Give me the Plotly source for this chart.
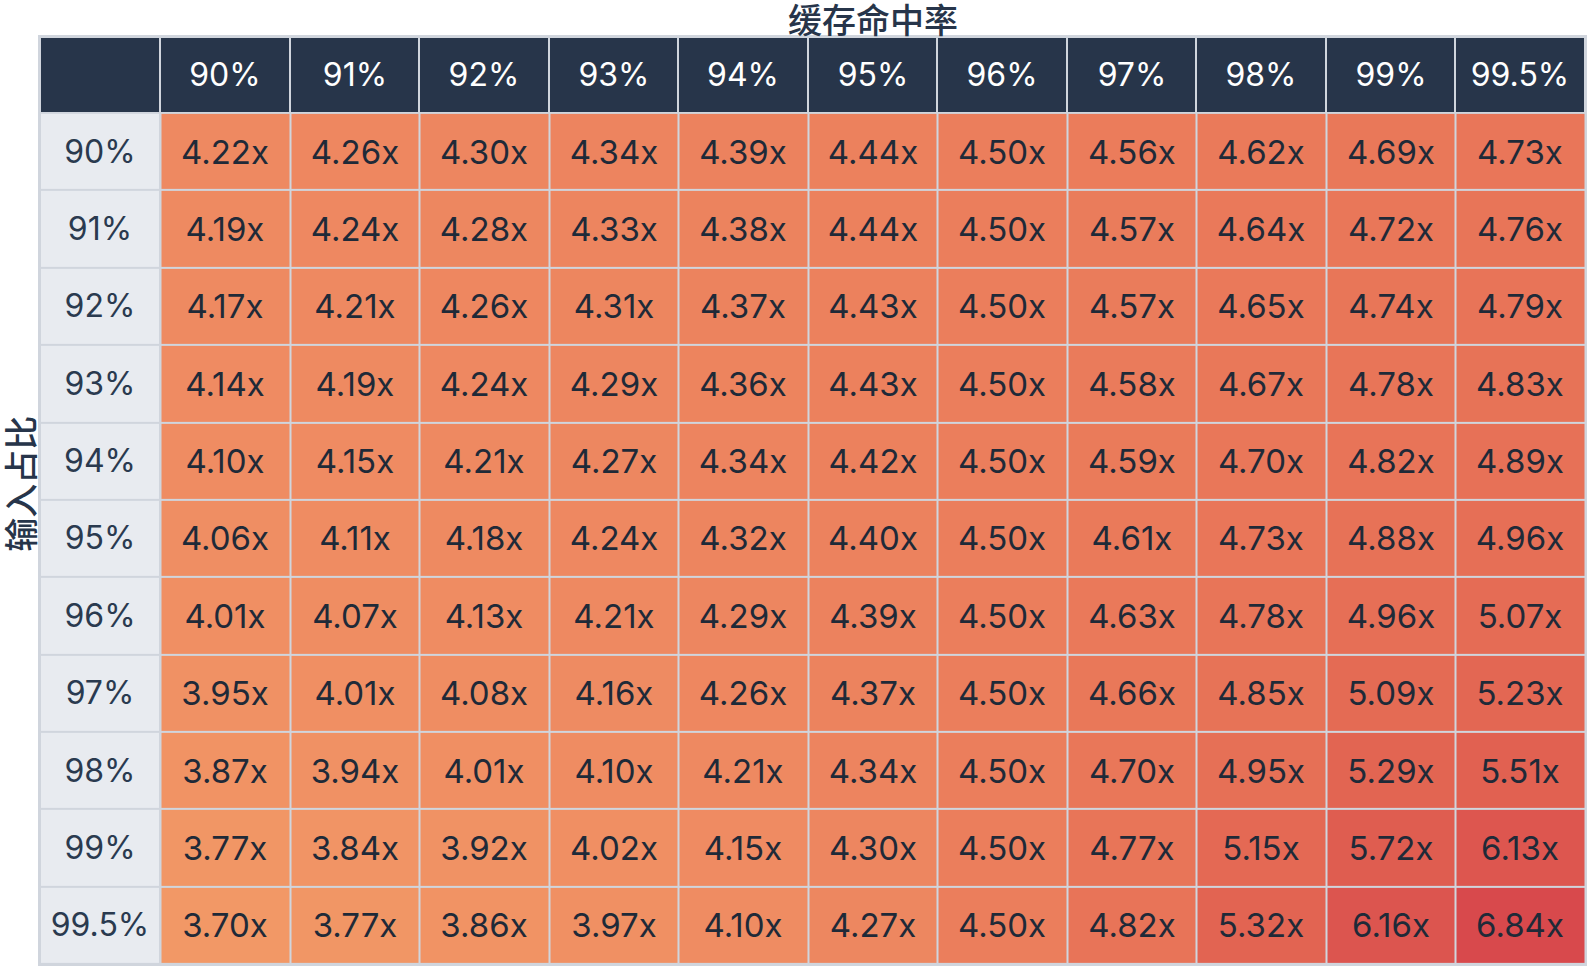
import plotly.graph_objects as go

# === Data ===
hit_rates = ["90%", "91%", "92%", "93%", "94%", "95%", "96%", "97%", "98%", "99%", "99.5%"]
input_shares = ["90%", "91%", "92%", "93%", "94%", "95%", "96%", "97%", "98%", "99%", "99.5%"]

speedup = [
    [4.22, 4.26, 4.30, 4.34, 4.39, 4.44, 4.50, 4.56, 4.62, 4.69, 4.73],
    [4.19, 4.24, 4.28, 4.33, 4.38, 4.44, 4.50, 4.57, 4.64, 4.72, 4.76],
    [4.17, 4.21, 4.26, 4.31, 4.37, 4.43, 4.50, 4.57, 4.65, 4.74, 4.79],
    [4.14, 4.19, 4.24, 4.29, 4.36, 4.43, 4.50, 4.58, 4.67, 4.78, 4.83],
    [4.10, 4.15, 4.21, 4.27, 4.34, 4.42, 4.50, 4.59, 4.70, 4.82, 4.89],
    [4.06, 4.11, 4.18, 4.24, 4.32, 4.40, 4.50, 4.61, 4.73, 4.88, 4.96],
    [4.01, 4.07, 4.13, 4.21, 4.29, 4.39, 4.50, 4.63, 4.78, 4.96, 5.07],
    [3.95, 4.01, 4.08, 4.16, 4.26, 4.37, 4.50, 4.66, 4.85, 5.09, 5.23],
    [3.87, 3.94, 4.01, 4.10, 4.21, 4.34, 4.50, 4.70, 4.95, 5.29, 5.51],
    [3.77, 3.84, 3.92, 4.02, 4.15, 4.30, 4.50, 4.77, 5.15, 5.72, 6.13],
    [3.70, 3.77, 3.86, 3.97, 4.10, 4.27, 4.50, 4.82, 5.32, 6.16, 6.84],
]

# === Styling ===
HEADER = "#27354a"
ROWLAB = "#e8ebf0"
GRID = "#d0d5dd"
TEXT = "#1f2a38"
FONT = "Inter, Noto Sans CJK SC, sans-serif"

zmin, zmax = 3.70, 6.84
stops = [(3.70, "#f29866"), (4.22, "#ee8961"), (4.61, "#ea7a5a"),
         (5.29, "#e26552"), (6.84, "#d8494c")]
colorscale = [[(v - zmin) / (zmax - zmin), c] for v, c in stops]

n = len(hit_rates)
label_w = 0.93  # first column is a bit narrower than data columns
x_data = list(range(n + 1))            # edges of data columns
y_data = list(range(n + 1))            # edges of data rows
x_label = [-label_w, 0]
y_head = [-0.98, 0]

fig = go.Figure()

# data cells
fig.add_trace(go.Heatmap(
    z=speedup, x=x_data, y=y_data,
    zmin=zmin, zmax=zmax, colorscale=colorscale, showscale=False,
    xgap=2, ygap=2,
    texttemplate="%{z:.2f}x",
    textfont=dict(size=33, color=TEXT, family=FONT),
    hoverinfo="skip",
))

# header row (column labels)
fig.add_trace(go.Heatmap(
    z=[[0] * (n + 1)], x=[-label_w] + x_data, y=y_head,
    colorscale=[[0, HEADER], [1, HEADER]], showscale=False,
    xgap=2, ygap=2,
    text=[[""] + hit_rates], texttemplate="%{text}",
    textfont=dict(size=32, color="white", family=FONT),
    hoverinfo="skip",
))

# row label column
fig.add_trace(go.Heatmap(
    z=[[0] for _ in input_shares], x=x_label, y=y_data,
    colorscale=[[0, ROWLAB], [1, ROWLAB]], showscale=False,
    xgap=2, ygap=2,
    text=[[s] for s in input_shares], texttemplate="%{text}",
    textfont=dict(size=32, color="#2a3a4f", family=FONT),
    hoverinfo="skip",
))

# === Layout ===
fig.update_layout(
    width=1609, height=980,
    margin=dict(l=40, r=24, t=37, b=16),
    plot_bgcolor=GRID,
    paper_bgcolor="white",
    font=dict(family=FONT, color=HEADER),
    showlegend=False,
    annotations=[
        dict(text="缓存命中率", x=n / 2, xref="x", y=1, yref="paper",
             xanchor="center", yanchor="bottom", yshift=-8, showarrow=False,
             font=dict(size=34, color=HEADER, family="Noto Sans CJK SC", weight=500)),
        dict(text="输入占比", x=0, xref="paper", y=0.518, yref="paper",
             xanchor="center", yanchor="middle", xshift=-20, textangle=-90,
             showarrow=False,
             font=dict(size=34, color=HEADER, family="Noto Sans CJK SC", weight=500)),
    ],
)

fig.update_xaxes(range=[-label_w, n], showgrid=False, zeroline=False,
                 showticklabels=False, ticks="", fixedrange=True,
                 showline=True, linecolor=GRID, linewidth=2, mirror=True)
fig.update_yaxes(range=[n, -0.98], showgrid=False, zeroline=False,
                 showticklabels=False, ticks="", fixedrange=True,
                 showline=True, linecolor=GRID, linewidth=2, mirror=True)

fig.write_html(
    "out.html",
    config={"displayModeBar": False},
    post_script="document.body.style.margin='0';",
)
